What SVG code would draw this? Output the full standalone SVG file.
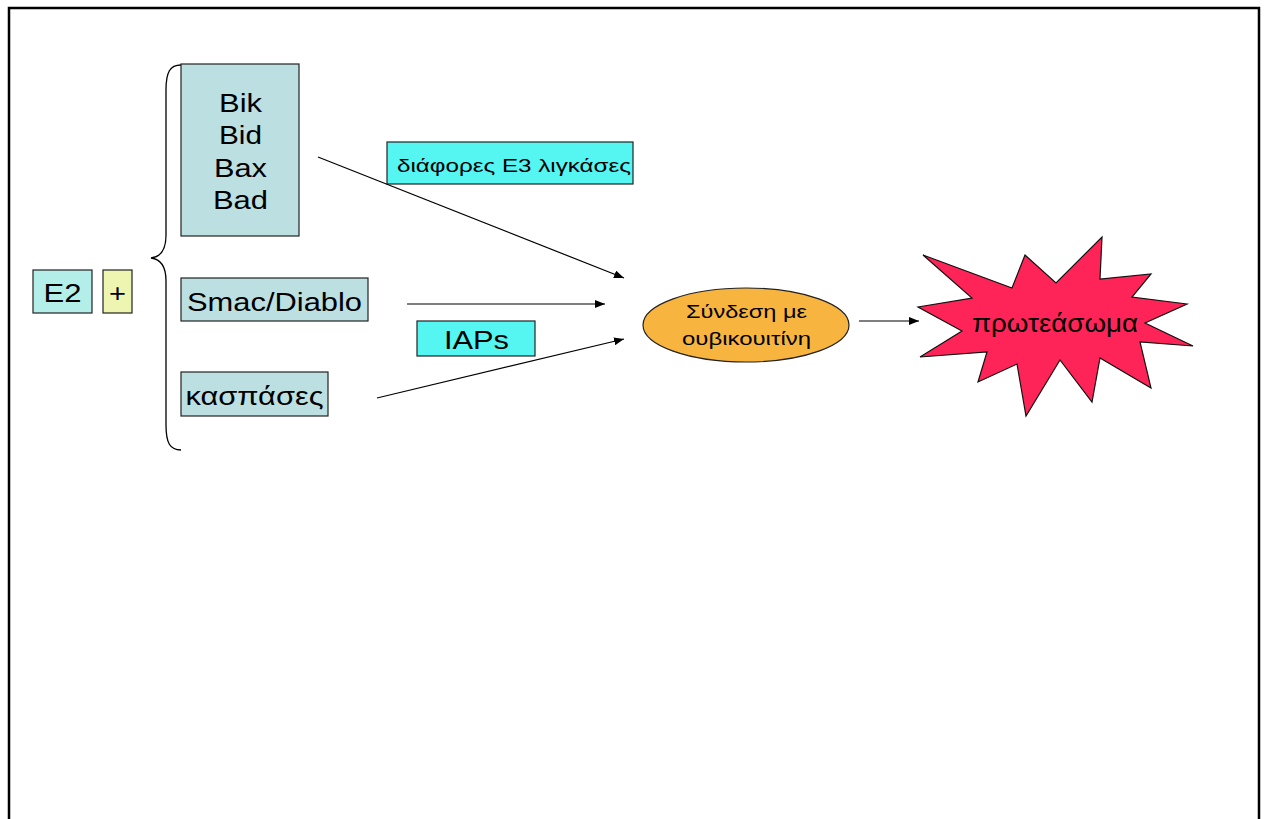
<svg xmlns="http://www.w3.org/2000/svg" width="1264" height="819" viewBox="0 0 1264 819">
  <style>
    text { font-family: "Liberation Sans", Arial, sans-serif; fill: #000; text-anchor: middle; }
    .box { stroke: #222; stroke-width: 1.2; }
    .pale { fill: #BCDFE2; }
    .cyan { fill: #55F6F2; }
    .conn { stroke: #000; stroke-width: 1.2; fill: none; marker-end: url(#arrow); }
  </style>
  <defs>
    <marker id="arrow" viewBox="0 0 10 8" refX="10" refY="4" markerWidth="10" markerHeight="8" markerUnits="userSpaceOnUse" orient="auto">
      <path d="M0,0 L10,4 L0,8 Z" fill="#000"/>
    </marker>
  </defs>

  <rect width="1264" height="819" fill="#fff"/>
  <!-- page frame (open at the bottom) -->
  <path d="M9,819 L9,8 L1259,8 L1259,819" fill="none" stroke="#000" stroke-width="2.5"/>

  <g id="e2">
    <rect class="box" x="33" y="270" width="59" height="43" fill="#B3EEE8"/>
    <text x="62.5" y="302" font-size="25" textLength="38" lengthAdjust="spacingAndGlyphs">E2</text>
  </g>
  <g id="plus">
    <rect class="box" x="103" y="270" width="29" height="43" fill="#EEF5B0"/>
    <text x="117.5" y="302" font-size="25" textLength="17" lengthAdjust="spacingAndGlyphs">+</text>
  </g>

  <!-- curly brace grouping the substrates -->
  <g id="brace">
    <path d="M181,65 C170,65 166,72 166,90 L166,235 C166,250 160,257 151,258 C160,259 166,266 166,281 L166,425 C166,443 170,450 181,450" fill="none" stroke="#000" stroke-width="1.3"/>
  </g>

  <g id="bcl2">
    <rect class="box pale" x="181" y="64" width="118" height="172"/>
    <text x="240.5" y="112" font-size="25" textLength="43" lengthAdjust="spacingAndGlyphs">Bik</text>
    <text x="240.5" y="144" font-size="25" textLength="43" lengthAdjust="spacingAndGlyphs">Bid</text>
    <text x="240.5" y="177" font-size="25" textLength="53" lengthAdjust="spacingAndGlyphs">Bax</text>
    <text x="240.5" y="209" font-size="25" textLength="55" lengthAdjust="spacingAndGlyphs">Bad</text>
  </g>
  <g id="smac">
    <rect class="box pale" x="181" y="278" width="187" height="43"/>
    <text x="274.5" y="311" font-size="25" textLength="175" lengthAdjust="spacingAndGlyphs">Smac/Diablo</text>
  </g>
  <g id="caspases">
    <rect class="box pale" x="181" y="372" width="147" height="44"/>
    <text x="254.5" y="405" font-size="25" textLength="138" lengthAdjust="spacingAndGlyphs">κασπάσες</text>
  </g>

  <g id="e3">
    <rect class="box cyan" x="387" y="142" width="246" height="42"/>
    <text x="514" y="172" font-size="19" textLength="234" lengthAdjust="spacingAndGlyphs">διάφορες Ε3 λιγκάσες</text>
  </g>
  <g id="iaps">
    <rect class="box cyan" x="417" y="321" width="118" height="35"/>
    <text x="476.5" y="349" font-size="25" textLength="65" lengthAdjust="spacingAndGlyphs">IAPs</text>
  </g>

  <g id="ubiquitin">
    <ellipse cx="746" cy="325" rx="103" ry="37" fill="#F7B53F" stroke="#222" stroke-width="1.2"/>
    <text x="746.5" y="318" font-size="18" textLength="121" lengthAdjust="spacingAndGlyphs">Σύνδεση με</text>
    <text x="746.5" y="345" font-size="18" textLength="129" lengthAdjust="spacingAndGlyphs">ουβικουιτίνη</text>
  </g>

  <g id="proteasome">
    <polygon points="923,255 1012,288 1025,255 1056,283 1102,237 1100,279 1151,274 1132,297 1187,304 1145,323 1193,346 1140,342 1151,388 1100,358 1092,402 1060,360 1026,416 1017,364 978,382 987,352 920,357 962,331 918,307 972,298" fill="#FF2457" stroke="#111" stroke-width="1.2" stroke-linejoin="miter"/>
    <text x="1055" y="332" font-size="25" textLength="166" lengthAdjust="spacingAndGlyphs">πρωτεάσωμα</text>
  </g>

  <g id="connectors">
    <line class="conn" x1="318" y1="157" x2="624" y2="278"/>
    <line class="conn" x1="407" y1="304" x2="605" y2="304"/>
    <line class="conn" x1="377" y1="398" x2="624" y2="339"/>
    <line class="conn" x1="859" y1="321" x2="919" y2="321"/>
  </g>
</svg>
